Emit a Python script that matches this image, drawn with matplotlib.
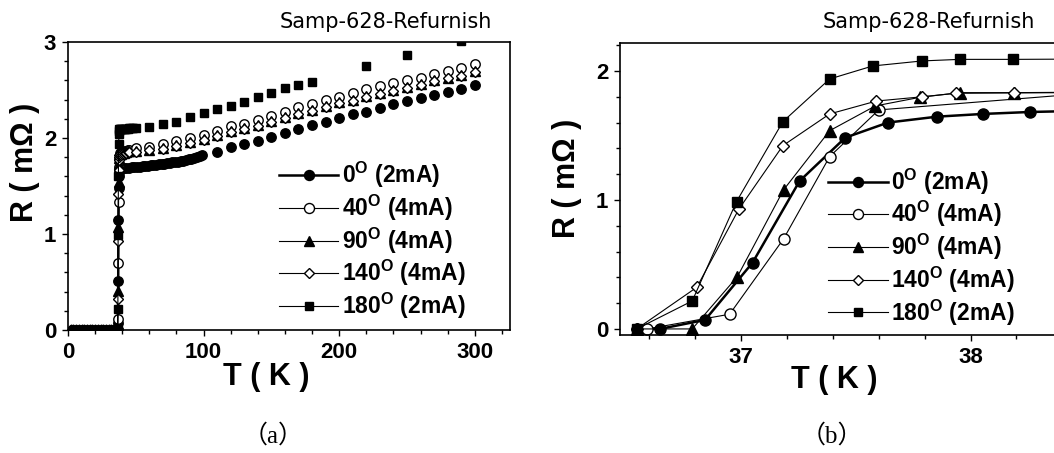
import matplotlib
matplotlib.use("Agg")
import matplotlib.pyplot as plt
from matplotlib.lines import Line2D
from matplotlib.ticker import MultipleLocator

plt.rcParams['font.family'] = ['Liberation Sans', 'DejaVu Sans']
plt.rcParams['mathtext.fontset'] = 'custom'
plt.rcParams['mathtext.bf'] = 'Liberation Sans:bold'
plt.rcParams['mathtext.rm'] = 'Liberation Sans:bold'

labels = [r"0$^{\mathbf{O}}$ (2mA)", r"40$^{\mathbf{O}}$ (4mA)", r"90$^{\mathbf{O}}$ (4mA)",
          r"140$^{\mathbf{O}}$ (4mA)", r"180$^{\mathbf{O}}$ (2mA)"]
sample_name = "Samp-628-Refurnish"

# --- transition region (panel b, also the vertical step of panel a) ---
t0_tr = [36.545, 36.646, 36.843, 37.05, 37.255, 37.454, 37.64, 37.855, 38.055, 38.258, 38.46]
r0_tr = [0.0, 0.0, 0.07, 0.514, 1.147, 1.483, 1.60, 1.646, 1.667, 1.682, 1.69]

t40_tr = [36.59, 36.95, 37.185, 37.386, 37.60, 38.60]
r40_tr = [0.0, 0.114, 0.698, 1.336, 1.698, 1.84]

t90_tr = [36.545, 36.787, 36.984, 37.185, 37.386, 37.585, 37.78, 37.953, 38.19, 38.45]
r90_tr = [0.0, 0.0, 0.406, 1.078, 1.537, 1.729, 1.796, 1.832, 1.832, 1.835]

t140_tr = [36.545, 36.807, 36.99, 37.182, 37.386, 37.59, 37.79, 37.935, 38.19, 38.45]
r140_tr = [0.0, 0.323, 0.928, 1.421, 1.667, 1.767, 1.80, 1.827, 1.83, 1.832]

t180_tr = [36.545, 36.787, 36.98, 37.182, 37.386, 37.574, 37.79, 37.953, 38.186, 38.45]
r180_tr = [0.0, 0.217, 0.987, 1.607, 1.938, 2.039, 2.078, 2.09, 2.09, 2.092]

# --- superconducting state (panel a) ---
t_low = [2, 4, 6, 8, 10, 12, 14, 16, 18, 20, 22, 24, 26, 28, 30, 32, 34, 36]
r_low = [0.02, 0.02, 0.02, 0.02, 0.02, 0.02, 0.02, 0.02, 0.02, 0.02, 0.02, 0.02, 0.02, 0.02, 0.02, 0.02, 0.02, 0.02]

# --- normal state (panel a) ---
t0_n = [39, 41, 43, 45, 47, 49, 51, 53, 55, 57, 59, 61, 63, 65, 67, 69, 71, 73, 75, 77,
        79, 81, 83, 85, 87, 89, 91, 93, 95, 97, 99,
        110, 120, 130, 140, 150, 160, 170, 180, 190, 200, 210, 220, 230, 240, 250,
        260, 270, 280, 290, 300]
r0_n = [1.68, 1.685, 1.69, 1.69, 1.695, 1.70, 1.70, 1.70, 1.705, 1.71, 1.71, 1.715, 1.72, 1.72,
        1.725, 1.73, 1.73, 1.735, 1.74, 1.745, 1.75, 1.755, 1.76, 1.765, 1.77, 1.78, 1.785,
        1.79, 1.80, 1.81, 1.82,
        1.858, 1.910, 1.937, 1.972, 2.014, 2.056, 2.090, 2.132, 2.167, 2.205, 2.25, 2.274,
        2.309, 2.351, 2.389, 2.42, 2.448, 2.483, 2.51, 2.552]

t_n = [39, 40, 41, 42, 43, 44, 45, 50, 60, 70, 80, 90, 100, 110, 120, 130, 140, 150, 160,
       170, 180, 190, 200, 210, 220, 230, 240, 250, 260, 270, 280, 290, 300]
r40_n = [1.84, 1.85, 1.85, 1.86, 1.86, 1.87, 1.87, 1.90, 1.91, 1.94, 1.97, 2.00, 2.03, 2.07,
         2.12, 2.15, 2.19, 2.23, 2.27, 2.32, 2.35, 2.40, 2.43, 2.47, 2.51, 2.54, 2.57, 2.60,
         2.63, 2.67, 2.70, 2.73, 2.77]
r90_n = [1.83, 1.84, 1.84, 1.85, 1.85, 1.86, 1.86, 1.86, 1.88, 1.90, 1.93, 1.96, 1.99, 2.03,
         2.07, 2.10, 2.14, 2.18, 2.22, 2.26, 2.29, 2.33, 2.37, 2.40, 2.44, 2.47, 2.50, 2.53,
         2.56, 2.60, 2.63, 2.66, 2.70]
r140_n = [1.82, 1.83, 1.83, 1.84, 1.84, 1.85, 1.85, 1.85, 1.87, 1.89, 1.92, 1.95, 1.98, 2.02,
          2.06, 2.09, 2.13, 2.17, 2.21, 2.25, 2.28, 2.32, 2.36, 2.39, 2.43, 2.46, 2.49, 2.52,
          2.55, 2.59, 2.62, 2.65, 2.69]

t180_n = [39, 40, 41, 42, 43, 44, 45, 46, 47, 48, 50, 60, 70, 80, 90, 100, 110, 120, 130,
          140, 150, 160, 170, 180, 220, 250, 290]
r180_n = [2.09, 2.09, 2.09, 2.095, 2.095, 2.095, 2.10, 2.10, 2.10, 2.10, 2.105, 2.118, 2.146,
          2.17, 2.215, 2.257, 2.306, 2.333, 2.378, 2.431, 2.465, 2.517, 2.552, 2.587, 2.753,
          2.865, 3.01]

series = [
    (t0_tr, r0_tr, t0_n, r0_n, 'o', 'black', 8, 1.8),
    (t40_tr, r40_tr, t_n, r40_n, 'o', 'white', 8, 0.8),
    (t90_tr, r90_tr, t_n, r90_n, '^', 'black', 8, 0.8),
    (t140_tr, r140_tr, t_n, r140_n, 'D', 'white', 6, 0.8),
    (t180_tr, r180_tr, t180_n, r180_n, 's', 'black', 6.5, 0.8),
]

fig = plt.figure(figsize=(10.54, 4.53), dpi=100)
ax1 = fig.add_axes([0.0645, 0.2715, 0.4194, 0.6358])
ax2 = fig.add_axes([0.5882, 0.2605, 0.4175, 0.6446])

handles = []
for (ttr, rtr, tn, rn, mk, fc, ms, lw) in series:
    # panel a
    ax1.plot(t_low, r_low, ls='none', marker=mk, ms=3.5, mfc='black', mec='black')
    ax1.plot(ttr, rtr, color='black', lw=lw, marker=mk, ms=ms * 0.85, mfc=fc, mec='black', mew=1)
    ax1.plot(tn, rn, ls='none', marker=mk, ms=ms * 0.85, mfc=fc, mec='black', mew=1)
    # panel b
    ax2.plot(ttr, rtr, color='black', lw=lw, marker=mk, ms=ms, mfc=fc, mec='black', mew=1)
    handles.append(Line2D([], [], color='black', lw=lw, marker=mk, ms=ms * 0.9,
                          mfc=fc, mec='black', mew=1))

ax1.set_xlim(0, 326)
ax1.set_ylim(0, 3)
ax1.xaxis.set_major_locator(MultipleLocator(100))
ax1.xaxis.set_minor_locator(MultipleLocator(20))
ax1.yaxis.set_major_locator(MultipleLocator(1))
ax1.yaxis.set_minor_locator(MultipleLocator(0.2))

ax2.set_xlim(36.472, 38.39)
ax2.set_ylim(-0.047, 2.217)
ax2.xaxis.set_major_locator(MultipleLocator(1))
ax2.xaxis.set_minor_locator(MultipleLocator(0.2))
ax2.yaxis.set_major_locator(MultipleLocator(1))
ax2.yaxis.set_minor_locator(MultipleLocator(0.2))

for ax in (ax1, ax2):
    for sp in ax.spines.values():
        sp.set_linewidth(1.2)
    ax.tick_params(which='major', direction='out', length=4.5, width=1, pad=4, labelsize=16)
    ax.tick_params(which='minor', direction='out', length=3, width=1)
    for lab in ax.get_xticklabels() + ax.get_yticklabels():
        lab.set_fontweight('bold')

ax1.set_ylabel("R ( m\u03a9 )", fontsize=22, fontweight='bold')
ax1.set_xlabel("T ( K )", fontsize=22, fontweight='bold')
ax1.yaxis.set_label_coords(-0.097, 0.583)
ax1.xaxis.set_label_coords(0.448, -0.163)
ax2.set_ylabel("R ( m\u03a9 )", fontsize=22, fontweight='bold')
ax2.set_xlabel("T ( K )", fontsize=22, fontweight='bold')
ax2.yaxis.set_label_coords(-0.120, 0.538)
ax2.xaxis.set_label_coords(0.486, -0.154)
for ax in (ax1, ax2):
    ax.xaxis.label.set_verticalalignment('center')
    ax.yaxis.label.set_verticalalignment('center')

ax1.text(0.959, 1.069, sample_name, transform=ax1.transAxes, ha='right', va='center',
         fontsize=15, family='DejaVu Sans')
ax2.text(0.943, 1.072, sample_name, transform=ax2.transAxes, ha='right', va='center',
         fontsize=15, family='DejaVu Sans')

for ax, anchor in ((ax1, (0.477, 0.59)), (ax2, (0.473, 0.577))):
    leg = ax.legend(handles, labels, loc='upper left', bbox_to_anchor=anchor, frameon=False,
                    handlelength=2.6, handletextpad=0.15, labelspacing=0.11, borderpad=0,
                    borderaxespad=0, prop={'size': 16.5, 'weight': 'bold'})

fig.text(273 / 1054, 1 - 436 / 453, "\uff08a\uff09", ha='center', va='center', fontsize=18,
         family=['Liberation Serif', 'Noto Sans CJK SC'])
fig.text(832 / 1054, 1 - 436 / 453, "\uff08b\uff09", ha='center', va='center', fontsize=18,
         family=['Liberation Serif', 'Noto Sans CJK SC'])

fig.savefig("out.png", dpi=100)
